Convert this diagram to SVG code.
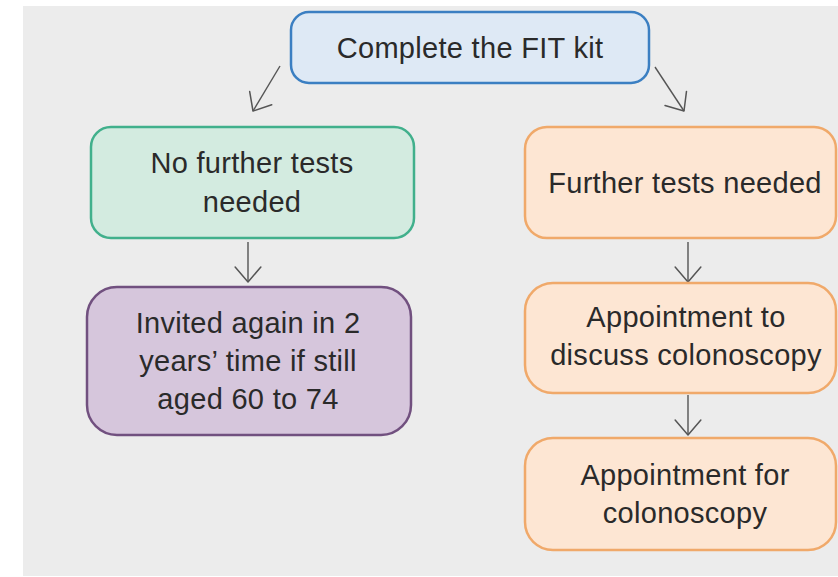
<svg xmlns="http://www.w3.org/2000/svg" width="838" height="577" viewBox="0 0 838 577">
  <defs>
    <marker id="open-arrow" markerUnits="userSpaceOnUse" markerWidth="20" markerHeight="30" viewBox="-16 -14 18 28" refX="0" refY="0" orient="auto">
      <path d="M-14,-12 L0,0 L-14,12" fill="none" stroke="#555" stroke-width="1.4" stroke-linecap="round" stroke-linejoin="round"/>
    </marker>
  </defs>
  <style>
    .label { font-family: "Liberation Sans", Arial, Helvetica, sans-serif; font-size: 29px; fill: #2a2a2a; text-anchor: middle; letter-spacing: 0.3px; }
    .box { stroke-width: 2.5; }
    .start { fill: #dee9f5; stroke: #3b7fc2; }
    .clear { fill: #d3ebe0; stroke: #41b08c; }
    .recall { fill: #d6c6dc; stroke: #71507f; }
    .followup { fill: #fde6d3; stroke: #f0a96a; }
    .link { fill: none; stroke: #555; stroke-width: 1.4; marker-end: url(#open-arrow); }
  </style>

  <!-- page background -->
  <rect x="0" y="0" width="838" height="577" fill="#ffffff"/>
  <rect x="23" y="6" width="815" height="570" fill="#ececec"/>

  <!-- connectors -->
  <g id="connectors">
    <path class="link" d="M280,66 L253,111"/>
    <path class="link" d="M655,67 L684,111"/>
    <path class="link" d="M248,242 L248,282"/>
    <path class="link" d="M688,242 L688,282"/>
    <path class="link" d="M688,395 L688,435"/>
  </g>

  <!-- nodes -->
  <g id="complete-fit-kit">
    <rect class="box start" x="291" y="12" width="358" height="71" rx="18"/>
    <text class="label" x="470" y="58">Complete the FIT kit</text>
  </g>

  <g id="no-further-tests">
    <rect class="box clear" x="91" y="127" width="323" height="111" rx="20"/>
    <text class="label" x="252" y="173">No further tests</text>
    <text class="label" x="252" y="212">needed</text>
  </g>

  <g id="invited-again">
    <rect class="box recall" x="87" y="287" width="324" height="148" rx="30"/>
    <text class="label" x="248" y="333">Invited again in 2</text>
    <text class="label" x="248" y="371">years’ time if still</text>
    <text class="label" x="248" y="409">aged 60 to 74</text>
  </g>

  <g id="further-tests">
    <rect class="box followup" x="525" y="127" width="311" height="111" rx="22"/>
    <text class="label" x="685" y="193">Further tests needed</text>
  </g>

  <g id="discuss-colonoscopy">
    <rect class="box followup" x="525" y="283" width="311" height="110" rx="28"/>
    <text class="label" x="686" y="327">Appointment to</text>
    <text class="label" x="686" y="365">discuss colonoscopy</text>
  </g>

  <g id="colonoscopy">
    <rect class="box followup" x="525" y="438" width="311" height="112" rx="28"/>
    <text class="label" x="685" y="485">Appointment for</text>
    <text class="label" x="685" y="523">colonoscopy</text>
  </g>
</svg>
